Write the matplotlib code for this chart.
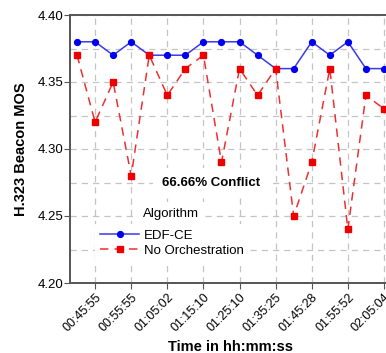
import matplotlib
matplotlib.use("Agg")
import matplotlib.pyplot as plt
from matplotlib.ticker import MultipleLocator, FixedLocator

plt.rcParams['font.family'] = ['Liberation Sans', 'DejaVu Sans']

# Sample index along the time axis
samples = list(range(18))
tick_labels = ["00:45:55", "00:55:55", "01:05:02", "01:15:10", "01:25:10",
               "01:35:25", "01:45:28", "01:55:52", "02:05:04"]
tick_positions = [1, 3, 5, 7, 9, 11, 13, 15, 17]

edf_ce = [4.38, 4.38, 4.37, 4.38, 4.37, 4.37, 4.37, 4.38, 4.38,
          4.38, 4.37, 4.36, 4.36, 4.38, 4.37, 4.38, 4.36, 4.36]
no_orch = [4.37, 4.32, 4.35, 4.28, 4.37, 4.34, 4.36, 4.37, 4.29,
           4.36, 4.34, 4.36, 4.25, 4.29, 4.36, 4.24, 4.34, 4.33]

W, H = 386, 353
fig = plt.figure(figsize=(W / 100, H / 100), dpi=100)
left, right, top, bottom = 70, 391, 15, 283
ax = fig.add_axes([left / W, (H - bottom) / H, (right - left) / W, (bottom - top) / H])

ax.plot(samples, edf_ce, color='#3a3ae8', lw=1.1, marker='o', ms=4.2,
        mfc='#0000ee', mec='#0000ee', label='EDF-CE', zorder=3)
ax.plot(samples, no_orch, color='#ee3030', lw=1.1, dashes=(5.5, 4), marker='s', ms=4,
        mfc='#ee0000', mec='#ee0000', label='No Orchestration', zorder=4)

ax.set_xlim(-0.39, 17.39)
ax.set_ylim(4.20, 4.40)
ax.xaxis.set_major_locator(FixedLocator(tick_positions))
ax.set_xticklabels(tick_labels, rotation=45, ha='right', rotation_mode='anchor', fontsize=9)
ax.yaxis.set_major_locator(MultipleLocator(0.05))
ax.yaxis.set_minor_locator(MultipleLocator(0.025))
ax.yaxis.set_major_formatter(plt.FormatStrFormatter('%.2f'))
ax.tick_params(axis='y', which='major', labelsize=9.5, length=4, color='#555555', pad=1)
ax.tick_params(axis='y', which='minor', length=0)
ax.tick_params(axis='x', length=4, color='#555555', pad=2)

ax.grid(True, which='both', axis='y', color='#c4c4c4', ls=(0, (5, 4)), lw=0.9, zorder=0)
ax.grid(True, which='major', axis='x', color='#c4c4c4', ls=(0, (5, 4)), lw=0.9, zorder=0)

for side in ('left', 'bottom', 'top', 'right'):
    ax.spines[side].set_color('#555555')
    ax.spines[side].set_linewidth(1.4)

ax.set_ylabel('H.323 Beacon MOS', fontsize=10.5, fontweight='bold', labelpad=7)
ax.set_xlabel('Time in hh:mm:ss', fontsize=10.5, fontweight='bold', labelpad=4)

ax.text(7.4, 4.275, '66.66% Conflict', fontsize=9.5, fontweight='bold', ha='center', va='center',
        bbox=dict(facecolor='white', edgecolor='none', pad=6), zorder=5)

leg = ax.legend(loc='upper left', bbox_to_anchor=(1.0, 4.244), bbox_transform=ax.transData,
                fontsize=9.5, frameon=True, fancybox=False, handlelength=2.9,
                handletextpad=0.4, labelspacing=0.25, borderpad=0.4, borderaxespad=0)
leg.get_frame().set_facecolor('white')
leg.get_frame().set_edgecolor('none')
leg.get_frame().set_alpha(1)
leg.set_zorder(6)
ax.text(3.67, 4.2515, 'Algorithm', fontsize=9.5, ha='left', va='center',
        bbox=dict(facecolor='white', edgecolor='none', pad=4), zorder=6)

fig.savefig('out.png', dpi=100)
